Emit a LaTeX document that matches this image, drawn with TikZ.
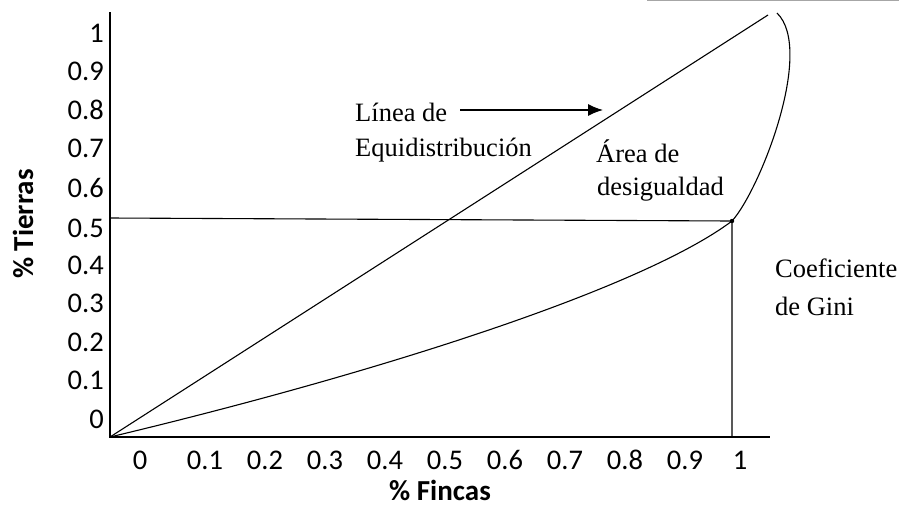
\documentclass[tikz,border=0pt]{standalone}
\usepackage{fontspec}
\setmainfont{Liberation Serif}
\newfontfamily\calib{Carlito}
\usetikzlibrary{arrows.meta}
\begin{document}
\begin{tikzpicture}[x=1pt,y=-1pt,
  axisline/.style={line width=2pt},
  thinline/.style={line width=1.1pt},
  ticklbl/.style={font=\calib\fontsize{28.5}{30}\selectfont, inner sep=0pt},
  axtitle/.style={font=\calib\bfseries\fontsize{29}{32}\selectfont, inner sep=0pt},
  annot/.style={font=\fontsize{26.5}{30}\selectfont, inner sep=0pt, anchor=west}]
\useasboundingbox (0,0) rectangle (899,507);
% scan edge
\draw[gray!70, line width=1pt] (647,0.6) -- (899,0.6);
% key points
\coordinate (O) at (110,437);
\coordinate (ytop) at (110,12);
\coordinate (xend) at (770,437);
\coordinate (dtop) at (768,15);
\coordinate (hl) at (110,218);
\coordinate (G) at (732,221);
\coordinate (Gx) at (732,437);
\coordinate (ctop) at (777,13);
% axes
\draw[axisline] (ytop) -- (O) -- (xend);
% equidistribution line
\draw[thinline] (O) -- (dtop);
% horizontal and vertical
\draw[thinline] (hl) -- (G) -- (Gx);
\fill (G) circle (2.2);
% Lorenz curve
\draw[thinline] (O) .. controls (370,375) and (640,290) .. (G)
  .. controls (760,190) and (815,50) .. (ctop);
% y tick labels
\foreach \v/\y in {1/33,0.9/71,0.8/110,0.7/148,0.6/188,0.5/228,0.4/265,0.3/303,0.2/342,0.1/380,0/419}
  \node[ticklbl, anchor=base east] (y\y) at (104,\y+9) {\v};
% x tick labels
\foreach \v/\x in {0/140,0.1/205,0.2/265,0.3/325,0.4/385,0.5/445,0.6/505,0.7/565,0.8/625,0.9/685,1/740}
  \node[ticklbl, anchor=base] (x\x) at (\x,469) {\v};
% axis titles
\node[axtitle, anchor=base] (xt) at (440,500) {\% Fincas};
\node[axtitle, rotate=90] (yt) at (23,224) {\% Tierras};
% annotations
\node[annot] (linea) at (355,112) {Línea de};
\node[annot] (equi) at (355,150) {Equidistribución};
\coordinate (arrS) at (460,110);
\coordinate (arrE) at (603,110);
\draw[line width=1.2pt, -{Latex[length=15pt,width=12pt]}] (arrS) -- (arrE);
\node[annot] (area) at (596,151) {Área de};
\node[annot] (desig) at (597,189) {desigualdad};
\node[annot] (coef) at (775,268) {Coeficiente};
\node[annot] (gini) at (775,306) {de Gini};
\end{tikzpicture}
\end{document}
